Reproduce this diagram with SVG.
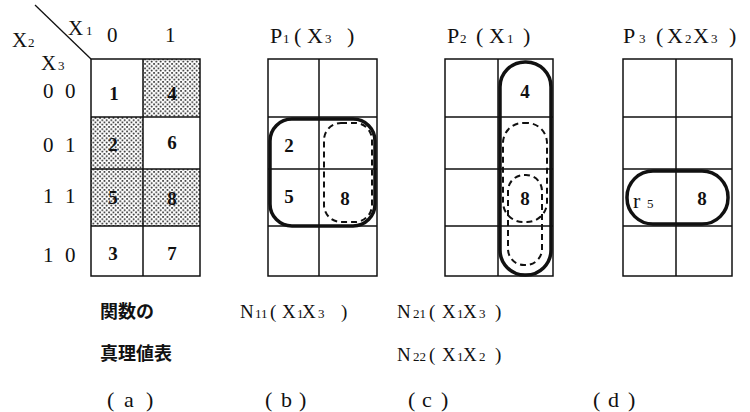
<svg xmlns="http://www.w3.org/2000/svg" width="750" height="412" viewBox="0 0 750 412">
<style>
.t{font-family:"Liberation Serif","Times New Roman",serif;font-size:21px;fill:#111}
.h{font-size:22px}
.c{font-size:19px}
.n{font-family:"Liberation Serif","Times New Roman",serif;font-size:19px;fill:#111;text-anchor:middle;font-weight:bold}
.s{font-size:13px}
.j{font-family:"Noto Sans CJK JP",sans-serif;font-size:18px;font-weight:bold;fill:#111}
.g{fill:none;stroke:#111;stroke-width:1.5}
.thick{fill:none;stroke:#111;stroke-width:3.5}
.dash{fill:none;stroke:#111;stroke-width:2;stroke-dasharray:6 4}
</style>
<defs>
<pattern id="dots" width="4.5" height="4.5" patternUnits="userSpaceOnUse">
<rect width="4.5" height="4.5" fill="#fff"/>
<circle cx="1" cy="1" r="0.9" fill="#111"/>
<circle cx="3.25" cy="3.25" r="0.9" fill="#111"/>
</pattern>
</defs>
<rect width="750" height="412" fill="#fff"/>

<g id="table-a">
<rect x="143" y="59" width="57" height="58" fill="url(#dots)"/>
<rect x="91" y="117" width="52" height="52" fill="url(#dots)"/>
<rect x="91" y="169" width="52" height="57" fill="url(#dots)"/>
<rect x="143" y="169" width="57" height="57" fill="url(#dots)"/>
<rect class="g" x="91" y="59" width="109" height="217"/>
<path class="g" d="M143 59V276M91 117H200M91 169H200M91 226H200"/>
<line x1="35" y1="5" x2="91" y2="59" stroke="#111" stroke-width="1.3"/>
<text class="t" y="35"><tspan x="68">X</tspan><tspan x="86" class="s">1</tspan></text>
<text class="t" y="42"><tspan x="107">0</tspan><tspan x="165">1</tspan></text>
<text class="t" y="47"><tspan x="12">X</tspan><tspan x="28" class="s">2</tspan></text>
<text class="t" y="70"><tspan x="41">X</tspan><tspan x="58" class="s">3</tspan></text>
<text class="t" y="98"><tspan x="43">0</tspan><tspan x="65">0</tspan></text>
<text class="t" y="152"><tspan x="43">0</tspan><tspan x="65">1</tspan></text>
<text class="t" y="203"><tspan x="43">1</tspan><tspan x="65">1</tspan></text>
<text class="t" y="262"><tspan x="43">1</tspan><tspan x="65">0</tspan></text>
<text class="n" x="114" y="100">1</text>
<text class="n" x="172" y="100">4</text>
<text class="n" x="113" y="151">2</text>
<text class="n" x="172" y="149">6</text>
<text class="n" x="113" y="204">5</text>
<text class="n" x="172" y="205">8</text>
<text class="n" x="113" y="260">3</text>
<text class="n" x="172" y="260">7</text>
</g>

<g id="table-b">
<rect class="g" x="268" y="59" width="109" height="217"/>
<path class="g" d="M319 59V276M268 117H377M268 169H377M268 226H377"/>
<text class="t h" y="43"><tspan x="270">P</tspan><tspan x="283" class="s">1</tspan><tspan x="294">(</tspan><tspan x="307">X</tspan><tspan x="325" class="s">3</tspan><tspan x="347">)</tspan></text>
<rect class="thick" x="270" y="119" width="105" height="107" rx="22"/>
<rect class="dash" x="324" y="123" width="48" height="99" rx="17"/>
<text class="n" x="289" y="152">2</text>
<text class="n" x="289" y="203">5</text>
<text class="n" x="345" y="205">8</text>
</g>

<g id="table-c">
<rect class="g" x="445" y="59" width="108" height="217"/>
<path class="g" d="M498 59V276M445 117H553M445 169H553M445 226H553"/>
<text class="t h" y="43"><tspan x="447">P</tspan><tspan x="460" class="s">2</tspan><tspan x="476">(</tspan><tspan x="489">X</tspan><tspan x="507" class="s">1</tspan><tspan x="523">)</tspan></text>
<rect class="thick" x="500" y="62" width="51" height="213" rx="25"/>
<rect class="dash" x="503" y="123" width="44" height="99" rx="20"/>
<rect class="dash" x="508" y="175" width="34" height="90" rx="16"/>
<text class="n" x="525" y="98">4</text>
<text class="n" x="525" y="205">8</text>
</g>

<g id="table-d">
<rect class="g" x="623" y="59" width="109" height="217"/>
<path class="g" d="M676 59V276M623 117H732M623 169H732M623 226H732"/>
<text class="t h" y="43"><tspan x="623">P</tspan><tspan x="639" class="s">3</tspan><tspan x="656">(</tspan><tspan x="667">X</tspan><tspan x="685" class="s">2</tspan><tspan x="693">X</tspan><tspan x="711" class="s">3</tspan><tspan x="729">)</tspan></text>
<rect class="thick" x="627" y="171" width="101" height="53" rx="26"/>
<text class="t h" y="208"><tspan x="633">r</tspan><tspan x="647" class="s">5</tspan></text>
<text class="n" x="702" y="205">8</text>
</g>

<g id="captions">
<text class="j" x="100" y="318">関数の</text>
<text class="j" x="100" y="360">真理値表</text>
<text class="t c" y="318"><tspan x="240">N</tspan><tspan x="255" class="s">11</tspan><tspan x="270">(</tspan><tspan x="282">X</tspan><tspan x="297" class="s">1</tspan><tspan x="302">X</tspan><tspan x="318" class="s">3</tspan><tspan x="341">)</tspan></text>
<text class="t c" y="318"><tspan x="397">N</tspan><tspan x="413" class="s">21</tspan><tspan x="429">(</tspan><tspan x="442">X</tspan><tspan x="457" class="s">1</tspan><tspan x="463">X</tspan><tspan x="479" class="s">3</tspan><tspan x="495">)</tspan></text>
<text class="t c" y="361"><tspan x="397">N</tspan><tspan x="413" class="s">22</tspan><tspan x="429">(</tspan><tspan x="442">X</tspan><tspan x="457" class="s">1</tspan><tspan x="463">X</tspan><tspan x="479" class="s">2</tspan><tspan x="495">)</tspan></text>
<text class="t h" y="407"><tspan x="107">(</tspan><tspan x="124">a</tspan><tspan x="146">)</tspan></text>
<text class="t h" y="407"><tspan x="265">(</tspan><tspan x="281">b</tspan><tspan x="299">)</tspan></text>
<text class="t h" y="407"><tspan x="408">(</tspan><tspan x="422">c</tspan><tspan x="441">)</tspan></text>
<text class="t h" y="407"><tspan x="593">(</tspan><tspan x="608">d</tspan><tspan x="628">)</tspan></text>
</g>
</svg>
